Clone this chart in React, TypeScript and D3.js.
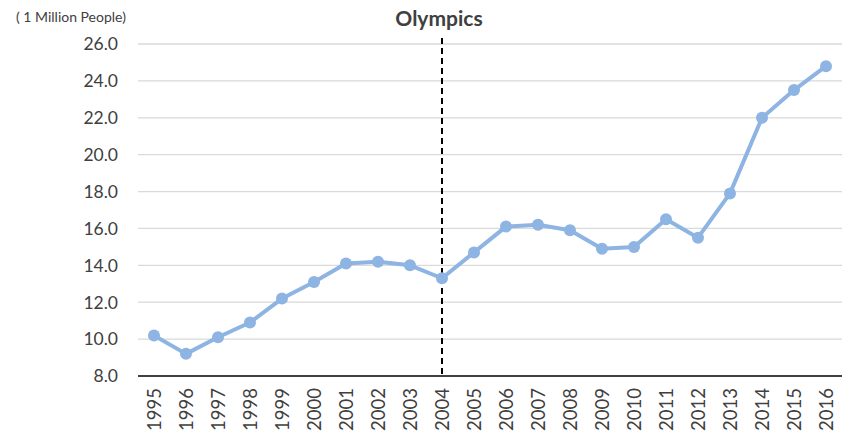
import React from "react";
import * as d3 from "d3";

const years = [
  "1995", "1996", "1997", "1998", "1999", "2000", "2001", "2002", "2003", "2004", "2005",
  "2006", "2007", "2008", "2009", "2010", "2011", "2012", "2013", "2014", "2015", "2016",
];
const visitors = [
  10.2, 9.2, 10.1, 10.9, 12.2, 13.1, 14.1, 14.2, 14.0, 13.3, 14.7,
  16.1, 16.2, 15.9, 14.9, 15.0, 16.5, 15.5, 17.9, 22.0, 23.5, 24.8,
];
const yTicks = [8, 10, 12, 14, 16, 18, 20, 22, 24, 26];
const markerYear = "2004";
const title = "Olympics";
const unitLabel = "( 1 Million People)";

const W = 847;
const H = 436;
const margin = { left: 138, right: 5, top: 44, bottom: 60 };
const FONT = "Lato, 'Open Sans', sans-serif";

export default function App() {
  const x = d3
    .scaleBand<string>()
    .domain(years)
    .range([margin.left, W - margin.right])
    .paddingInner(0)
    .paddingOuter(0);
  const y = d3.scaleLinear().domain([8, 26]).range([H - margin.bottom, margin.top]);
  const cx = (d: string) => (x(d) ?? 0) + x.bandwidth() / 2;

  const line = d3
    .line<number>()
    .x((_, i) => cx(years[i]))
    .y((v) => y(v));

  const x0 = margin.left;
  const x1 = W - margin.right;
  const baseY = y(8);

  return (
    <svg
      width={W}
      height={H}
      style={{ position: "absolute", left: 0, top: 0, background: "#fff" }}
      fontFamily={FONT}
    >
      {/* horizontal gridlines */}
      {yTicks.slice(1).map((t) => (
        <line key={t} x1={x0} x2={x1} y1={y(t)} y2={y(t)} stroke="#d9d9d9" strokeWidth={1.3} />
      ))}
      {/* y tick labels */}
      {yTicks.map((t) => (
        <text
          key={t}
          x={118}
          y={y(t)}
          dy="0.36em"
          textAnchor="end"
          fontSize={17.5}
          fill="#404040"
        >
          {d3.format(".1f")(t)}
        </text>
      ))}
      {/* baseline */}
      <line x1={x0} x2={x1} y1={baseY} y2={baseY} stroke="#000" strokeWidth={1.5} />
      {/* x tick labels, rotated */}
      {years.map((yr) => (
        <text
          key={yr}
          transform={`translate(${cx(yr)},${baseY + 12}) rotate(-90)`}
          textAnchor="end"
          dy="0.36em"
          fontSize={18.5}
          fill="#404040"
        >
          {yr}
        </text>
      ))}
      {/* event marker */}
      <line
        x1={cx(markerYear)}
        x2={cx(markerYear)}
        y1={38}
        y2={baseY}
        stroke="#000"
        strokeWidth={2}
        strokeDasharray="6,4"
      />
      {/* series */}
      <path d={line(visitors) ?? ""} fill="none" stroke="#8db4e2" strokeWidth={4} strokeLinejoin="round" />
      {visitors.map((v, i) => (
        <circle key={years[i]} cx={cx(years[i])} cy={y(v)} r={6} fill="#8db4e2" />
      ))}
      {/* titles */}
      <text x={439} y={26} textAnchor="middle" fontSize={21} fontWeight="bold" fill="#404040">
        {title}
      </text>
      <text x={16} y={22} fontSize={14} fill="#404040">
        {unitLabel}
      </text>
    </svg>
  );
}
